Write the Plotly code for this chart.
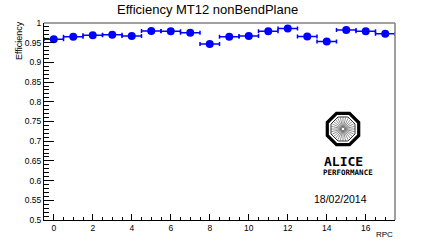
import math
import plotly.graph_objects as go

# ---- data ----
rpc = list(range(18))
efficiency = [0.959, 0.965, 0.969, 0.970, 0.967, 0.980, 0.979, 0.975, 0.947,
              0.965, 0.967, 0.979, 0.986, 0.966, 0.953, 0.982, 0.979, 0.973]
bin_half_width = [0.5] * 18
x_tick_vals = [0, 2, 4, 6, 8, 10, 12, 14, 16]
x_tick_text = ["0", "2", "4", "6", "8", "10", "12", "14", "16"]
y_tick_vals = [0.5, 0.55, 0.6, 0.65, 0.7, 0.75, 0.8, 0.85, 0.9, 0.95, 1.0]
y_tick_text = ["0.5", "0.55", "0.6", "0.65", "0.7", "0.75", "0.8", "0.85", "0.9", "0.95", "1"]

W, H = 440, 245
# plot area in page pixels: x 44..395, y 23..220
PL, PR, PT, PB = 44, 395, 23, 220
L, T = PL, PT
R = W - PR
B = H - PB
PW, PH = PR - PL, PB - PT
FONT = "Liberation Sans, Arial, Helvetica, sans-serif"


def px(xp):
    return (xp - PL) / PW


def py(yp):
    return (PB - yp) / PH


fig = go.Figure()
fig.add_trace(go.Scatter(
    x=rpc, y=efficiency, mode="markers",
    marker=dict(color="#0000ff", size=8, symbol="circle"),
    error_x=dict(type="data", array=bin_half_width, color="#0000ff",
                 thickness=1.5, width=2),
    showlegend=False,
))

shapes = []
# gray frame top and right
shapes.append(dict(type="line", xref="paper", yref="paper", x0=0, x1=1, y0=1, y1=1,
                   line=dict(color="#808080", width=1.5)))
shapes.append(dict(type="line", xref="paper", yref="paper", x0=1, x1=1, y0=0, y1=1,
                   line=dict(color="#808080", width=1.5)))

# ALICE logo (decoration)
cx, cy = 343, 129
def octagon(r):
    pts = []
    for k in range(8):
        a = math.radians(22.5 + 45 * k)
        pts.append((px(cx + r * math.cos(a)), py(cy + r * math.sin(a))))
    return "M " + " L ".join(f"{x:.5f},{y:.5f}" for x, y in pts) + " Z"

shapes.append(dict(type="path", xref="paper", yref="paper", path=octagon(17),
                   line=dict(color="black", width=3.2)))
shapes.append(dict(type="path", xref="paper", yref="paper", path=octagon(13),
                   line=dict(color="black", width=0.8)))
for k in range(28):
    a = 2 * math.pi * k / 28
    shapes.append(dict(type="line", xref="paper", yref="paper",
                       x0=px(cx + 1.5 * math.cos(a)), y0=py(cy + 1.5 * math.sin(a)),
                       x1=px(cx + 12 * math.cos(a)), y1=py(cy + 12 * math.sin(a)),
                       line=dict(color="#444444", width=0.6)))

annotations = [
    dict(text="Efficiency MT12 nonBendPlane", xref="paper", yref="paper",
         x=px(207), y=py(10), showarrow=False, xanchor="center", yanchor="middle",
         font=dict(family=FONT, size=13, color="black")),
    dict(text="Efficiency", xref="paper", yref="paper", x=px(19), y=py(41),
         showarrow=False, textangle=-90, xanchor="center", yanchor="middle",
         font=dict(family=FONT, size=9, color="black")),
    dict(text="RPC", xref="paper", yref="paper", x=px(395), y=py(234),
         showarrow=False, xanchor="right", yanchor="middle",
         font=dict(family=FONT, size=8, color="black")),
    dict(text="<b>ALICE</b>", xref="paper", yref="paper", x=px(343), y=py(161),
         showarrow=False, xanchor="center", yanchor="middle",
         font=dict(family="DejaVu Sans Mono", size=13, color="black")),
    dict(text="<b>PERFORMANCE</b>", xref="paper", yref="paper", x=px(348), y=py(172),
         showarrow=False, xanchor="center", yanchor="middle",
         font=dict(family="DejaVu Sans Mono", size=7.5, color="black")),
    dict(text="18/02/2014", xref="paper", yref="paper", x=px(340), y=py(199),
         showarrow=False, xanchor="center", yanchor="middle",
         font=dict(family=FONT, size=10.5, color="black")),
]

fig.update_layout(
    width=W, height=H,
    margin=dict(l=L, r=R, t=T, b=B, pad=0),
    paper_bgcolor="white", plot_bgcolor="white",
    shapes=shapes, annotations=annotations,
    xaxis=dict(range=[-0.5, 17.5], tickmode="array", tickvals=x_tick_vals,
               ticktext=x_tick_text, ticks="inside", ticklen=6, tickwidth=1,
               tickcolor="black", showline=True, linecolor="black", linewidth=1,
               showgrid=False, zeroline=False,
               tickfont=dict(family=FONT, size=8.5, color="black"),
               minor=dict(tickmode="linear", tick0=0, dtick=0.5, ticks="inside",
                          ticklen=3, tickcolor="black", showgrid=False)),
    yaxis=dict(range=[0.5, 1.0], tickmode="array", tickvals=y_tick_vals,
               ticktext=y_tick_text, ticks="inside", ticklen=10, tickwidth=1,
               tickcolor="black", showline=True, linecolor="black", linewidth=1,
               showgrid=False, zeroline=False,
               tickfont=dict(family=FONT, size=8.5, color="black"),
               minor=dict(tickmode="linear", tick0=0.5, dtick=0.01, ticks="inside",
                          ticklen=5, tickcolor="black", showgrid=False)),
)

fig.write_html("out.html", config={"displayModeBar": False},
               post_script="document.body.style.margin='0';document.body.style.padding='0';")
